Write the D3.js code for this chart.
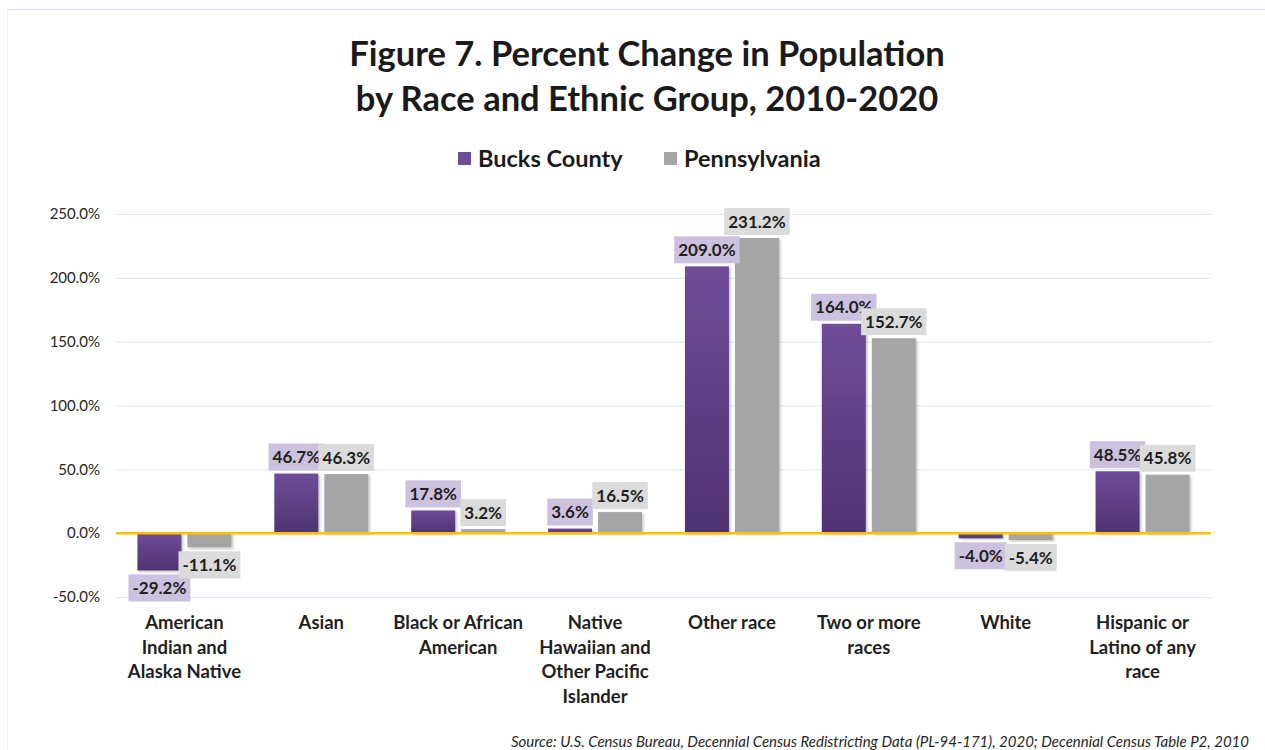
<!DOCTYPE html>
<html>
<head>
<meta charset="utf-8">
<script src="https://cdn.jsdelivr.net/npm/d3@7"></script>
<style>
  html, body { margin: 0; padding: 0; background: #ffffff; }
  svg { display: block; }
  text { font-family: Lato, "Open Sans", sans-serif; }
</style>
</head>
<body>
<svg id="chart" width="1265" height="750"></svg>
<script>
// ---- Data ----
const categories = [
  "American Indian and Alaska Native",
  "Asian",
  "Black or African American",
  "Native Hawaiian and Other Pacific Islander",
  "Other race",
  "Two or more races",
  "White",
  "Hispanic or Latino of any race"
];
const categoryLines = [
  ["American", "Indian and", "Alaska Native"],
  ["Asian"],
  ["Black or African", "American"],
  ["Native", "Hawaiian and", "Other Pacific", "Islander"],
  ["Other race"],
  ["Two or more", "races"],
  ["White"],
  ["Hispanic or", "Latino of any", "race"]
];
const seriesNames = ["Bucks County", "Pennsylvania"];
const bucksCounty = [-29.2, 46.7, 17.8, 3.6, 209.0, 164.0, -4.0, 48.5];
const pennsylvania = [-11.1, 46.3, 3.2, 16.5, 231.2, 152.7, -5.4, 45.8];
const yTicks = [-50, 0, 50, 100, 150, 200, 250];
const titleLines = ["Figure 7. Percent Change in Population", "by Race and Ethnic Group, 2010-2020"];
const sourceText = "Source: U.S. Census Bureau, Decennial Census Redistricting Data (PL-94-171), 2020; Decennial Census Table P2, 2010";

// ---- Layout ----
const svg = d3.select("#chart");
const W = 1265, H = 750;
const plot = { left: 116, right: 1211, top: 214, bottom: 597 };

const x = d3.scaleBand().domain(categories).range([plot.left, plot.right]).paddingInner(0).paddingOuter(0);
const barW = 44, barGap = 6;
const y = d3.scaleLinear().domain([-50, 250]).range([plot.bottom, plot.top]);

const loc = d3.formatLocale({ decimal: ".", thousands: ",", grouping: [3], currency: ["$", ""], minus: "-" });
const pct = v => loc.format(".1f")(v) + "%";

const colors = {
  bucksTop: "#6f4c98", bucksBottom: "#4f3372",
  penn: "#a5a5a5",
  bucksLabel: "#ccc1de", pennLabel: "#dbdbdb",
  grid: "#dce6f2", zero: "#ffc000"
};

// defs
const defs = svg.append("defs");
const grad = defs.append("linearGradient").attr("id", "bucksGrad")
  .attr("x1", 0).attr("y1", 0).attr("x2", 0).attr("y2", 1);
grad.append("stop").attr("offset", "0%").attr("stop-color", colors.bucksTop);
grad.append("stop").attr("offset", "100%").attr("stop-color", colors.bucksBottom);
const shadow = defs.append("filter").attr("id", "shadow").attr("x", "-20%").attr("y", "-20%").attr("width", "140%").attr("height", "140%");
shadow.append("feDropShadow").attr("dx", 1.5).attr("dy", 1.5).attr("stdDeviation", 1.2).attr("flood-color", "#000").attr("flood-opacity", 0.25);

// chart border (top + left)
svg.append("line").attr("x1", 7).attr("x2", W).attr("y1", 9.5).attr("y2", 9.5)
  .attr("stroke", "#dde3ee").attr("stroke-width", 1.5);
svg.append("line").attr("x1", 7.5).attr("x2", 7.5).attr("y1", 9).attr("y2", H)
  .attr("stroke", "#eeeeee").attr("stroke-width", 1);

// title
svg.append("g").selectAll("text").data(titleLines).join("text")
  .attr("x", 647).attr("y", (d, i) => 66 + i * 45)
  .attr("text-anchor", "middle")
  .attr("font-size", 34.5).attr("font-weight", 700).attr("fill", "#1a1a1a")
  .text(d => d);

// legend
const legend = svg.append("g");
const legendItems = [
  { name: seriesNames[0], color: colors.bucksTop, x: 458 },
  { name: seriesNames[1], color: colors.penn, x: 664 }
];
legendItems.forEach(it => {
  legend.append("rect").attr("x", it.x).attr("y", 152).attr("width", 13).attr("height", 13).attr("fill", it.color);
  legend.append("text").attr("x", it.x + 20).attr("y", 167)
    .attr("font-size", 23.5).attr("font-weight", 700).attr("fill", "#1a1a1a").text(it.name);
});

// y axis gridlines and labels
const yAxis = d3.axisLeft(y).tickValues(yTicks).tickSize(-(plot.right - plot.left))
  .tickFormat(pct).tickPadding(16);
const gy = svg.append("g").attr("transform", `translate(${plot.left},0)`).call(yAxis);
gy.select(".domain").remove();
gy.selectAll(".tick line").attr("stroke", colors.grid).attr("stroke-width", 1);
gy.selectAll(".tick text").attr("font-size", 15).attr("fill", "#262626")
  .style("font-family", "Lato, sans-serif");

// bars
const series = [
  { name: seriesNames[0], values: bucksCounty, offset: 0, fill: "url(#bucksGrad)", labelFill: colors.bucksLabel },
  { name: seriesNames[1], values: pennsylvania, offset: barW + barGap, fill: colors.penn, labelFill: colors.pennLabel }
];
const groupOffset = (x.bandwidth() - (2 * barW + barGap)) / 2;

const barsG = svg.append("g");
series.forEach(s => {
  barsG.append("g").selectAll("rect").data(s.values).join("rect")
    .attr("x", (d, i) => x(categories[i]) + groupOffset + s.offset)
    .attr("y", d => y(Math.max(0, d)))
    .attr("width", barW)
    .attr("height", d => Math.abs(y(d) - y(0)))
    .attr("fill", s.fill)
    .attr("filter", "url(#shadow)");
});

// zero line
svg.append("line").attr("x1", plot.left).attr("x2", plot.right)
  .attr("y1", y(0)).attr("y2", y(0)).attr("stroke", colors.zero).attr("stroke-width", 2.5);

// data labels
const labelsG = svg.append("g");
series.forEach(s => {
  const g = labelsG.append("g");
  s.values.forEach((v, i) => {
    const cx = x(categories[i]) + groupOffset + s.offset + barW / 2;
    const lg = g.append("g");
    const t = lg.append("text").attr("x", cx).attr("text-anchor", "middle")
      .attr("font-size", 17).attr("font-weight", 700).attr("fill", "#1f1f1f").text(pct(v));
    const bw = t.node().getComputedTextLength() + 8;
    const bh = 27;
    let boxTop;
    if (v >= 0) boxTop = y(v) - 3 - bh; else boxTop = y(v) + 4;
    t.attr("y", boxTop + 19.5);
    lg.insert("rect", "text").attr("x", cx - bw / 2).attr("y", boxTop).attr("width", bw).attr("height", bh)
      .attr("fill", s.labelFill);
  });
});

// category labels
const catG = svg.append("g");
categories.forEach((c, i) => {
  const cx = x(c) + x.bandwidth() / 2;
  const t = catG.append("text").attr("x", cx).attr("y", 629).attr("text-anchor", "middle")
    .attr("font-size", 18.5).attr("font-weight", 700).attr("fill", "#1f1f1f");
  categoryLines[i].forEach((ln, j) => {
    t.append("tspan").attr("x", cx).attr("dy", j === 0 ? 0 : 24.7).text(ln);
  });
});

// source
svg.append("text").attr("x", 1249).attr("y", 747).attr("text-anchor", "end")
  .attr("font-size", 15).attr("font-style", "italic").attr("fill", "#262626").text(sourceText);
</script>
</body>
</html>
